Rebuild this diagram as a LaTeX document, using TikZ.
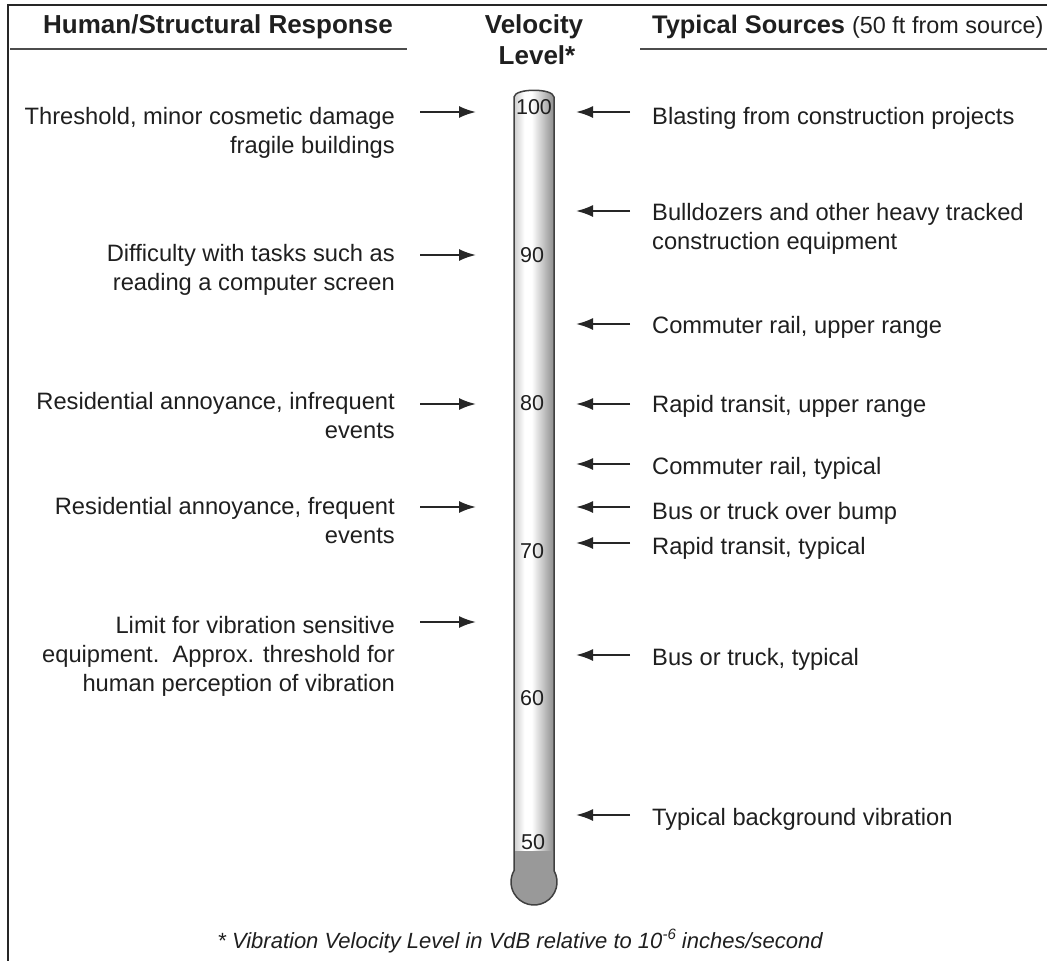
\documentclass[tikz,border=0pt]{standalone}
\usepackage{fontspec}
\setmainfont{Liberation Sans}
\usetikzlibrary{arrows.meta}
\pgfdeclarehorizontalshading{tubeshade}{100bp}{color(0bp)=(black!20); color(25bp)=(black!20); color(38bp)=(white); color(47bp)=(white); color(75bp)=(black!45); color(100bp)=(black!45)}
\tikzset{
  lbl/.style={font=\fontsize{23.7}{29}\selectfont, inner sep=0pt, text=black!88},
  ltxt/.style={lbl, align=right, anchor=base east},
  rtxt/.style={lbl, align=left, anchor=base west},
  hdr/.style={font=\fontsize{26}{30}\selectfont\bfseries, inner sep=0pt, text=black!88},
  num/.style={font=\fontsize{21.5}{21.5}\selectfont, inner sep=0pt, text=black!88},
  arr/.style={-{Latex[length=17pt,width=12pt]}, line width=2pt, black!85},
  rulel/.style={line width=2.2pt, black!70},
  frame/.style={line width=2pt, black!85},
  tube/.style={line width=1.5pt, black!75},
}
\begin{document}
\begin{tikzpicture}[x=1pt,y=1pt]
\useasboundingbox (0,0) rectangle (1047,-961);
% frame (top and left edges)
\coordinate (fa) at (8,-961);
\coordinate (fb) at (8,-5);
\coordinate (fc) at (1047,-5);
\draw[frame] (fa) -- (fb) -- (fc);
% headers
\node[hdr, anchor=base east] (hleft) at (393,-33) {Human/Structural Response};
\node[hdr, anchor=base] (hvel) at (534,-33) {Velocity};
\node[hdr, anchor=base] (hlev) at (537,-64) {Level*};
\node[hdr, anchor=base west, font=\fontsize{25.4}{30}\selectfont\bfseries] (hright) at (652,-33) {Typical Sources \fontsize{23.4}{28}\selectfont\mdseries(50 ft from source)};
\coordinate (ul1) at (10,-49); \coordinate (ul2) at (407,-49);
\coordinate (ur1) at (640,-49); \coordinate (ur2) at (1047,-49);
\draw[rulel] (ul1) -- (ul2);
\draw[rulel] (ur1) -- (ur2);
% thermometer
\path[shading=tubeshade] (514,-870.6) -- (514,-97) .. controls (515,-88) and (553,-88) .. (554,-97) -- (554,-870.6) -- cycle;
\fill[black!40] (514,-851) -- (554,-851) -- (554,-870.6) arc[start angle=29.7, end angle=-209.7, radius=23] -- cycle;
\draw[tube] (514,-870.6) -- (514,-97) .. controls (515,-88) and (553,-88) .. (554,-97) -- (554,-870.6) arc[start angle=29.7, end angle=-209.7, radius=23] -- cycle;
% scale
\node[num] (t100) at (534,-107) {100};
\node[num] (t90) at (532,-255) {90};
\node[num] (t80) at (532,-403) {80};
\node[num] (t70) at (532,-551) {70};
\node[num] (t60) at (532,-698) {60};
\node[num] (t50) at (533,-842) {50};
% left texts (base = last line)
\node[ltxt] (l1) at (395,-153.5) {Threshold, minor cosmetic damage\\fragile buildings};
\node[ltxt] (l2) at (395,-290.5) {Difficulty with tasks such as\\reading a computer screen};
\node[ltxt] (l3) at (395,-438.5) {Residential annoyance, infrequent\\events};
\node[ltxt] (l4) at (395,-543.5) {Residential annoyance, frequent\\events};
\node[ltxt] (l5) at (395,-691.5) {Limit for vibration sensitive\\equipment.\ \ Approx. threshold for\\human perception of vibration};
% left arrows
\foreach \n/\y in {1/112,2/255,3/404,4/507,5/622}{
  \coordinate (la\n) at (420,-\y);
  \coordinate (lb\n) at (476,-\y);
  \draw[arr] (la\n) -- (lb\n);
}
% right texts
\node[rtxt] (r1) at (652,-124.5) {Blasting from construction projects};
\node[rtxt] (r2) at (652,-249.5) {Bulldozers and other heavy tracked\\construction equipment};
\node[rtxt] (r3) at (652,-333.5) {Commuter rail, upper range};
\node[rtxt] (r4) at (652,-412.5) {Rapid transit, upper range};
\node[rtxt] (r5) at (652,-474.5) {Commuter rail, typical};
\node[rtxt] (r6) at (652,-519.5) {Bus or truck over bump};
\node[rtxt] (r7) at (652,-554.5) {Rapid transit, typical};
\node[rtxt] (r8) at (652,-665.5) {Bus or truck, typical};
\node[rtxt] (r9) at (652,-825.5) {Typical background vibration};
% right arrows
\foreach \n/\y in {1/112,2/211,3/324,4/404,5/464,6/507,7/543,8/655,9/815}{
  \coordinate (ra\n) at (630,-\y);
  \coordinate (rb\n) at (576,-\y);
  \draw[arr] (ra\n) -- (rb\n);
}
% footnote
\node[lbl, anchor=base, font=\fontsize{22}{27}\selectfont\itshape] (foot) at (520,-948) {* Vibration Velocity Level in VdB relative to 10\raisebox{9pt}{\fontsize{15}{15}\selectfont -6} inches/second};
\end{tikzpicture}
\end{document}
